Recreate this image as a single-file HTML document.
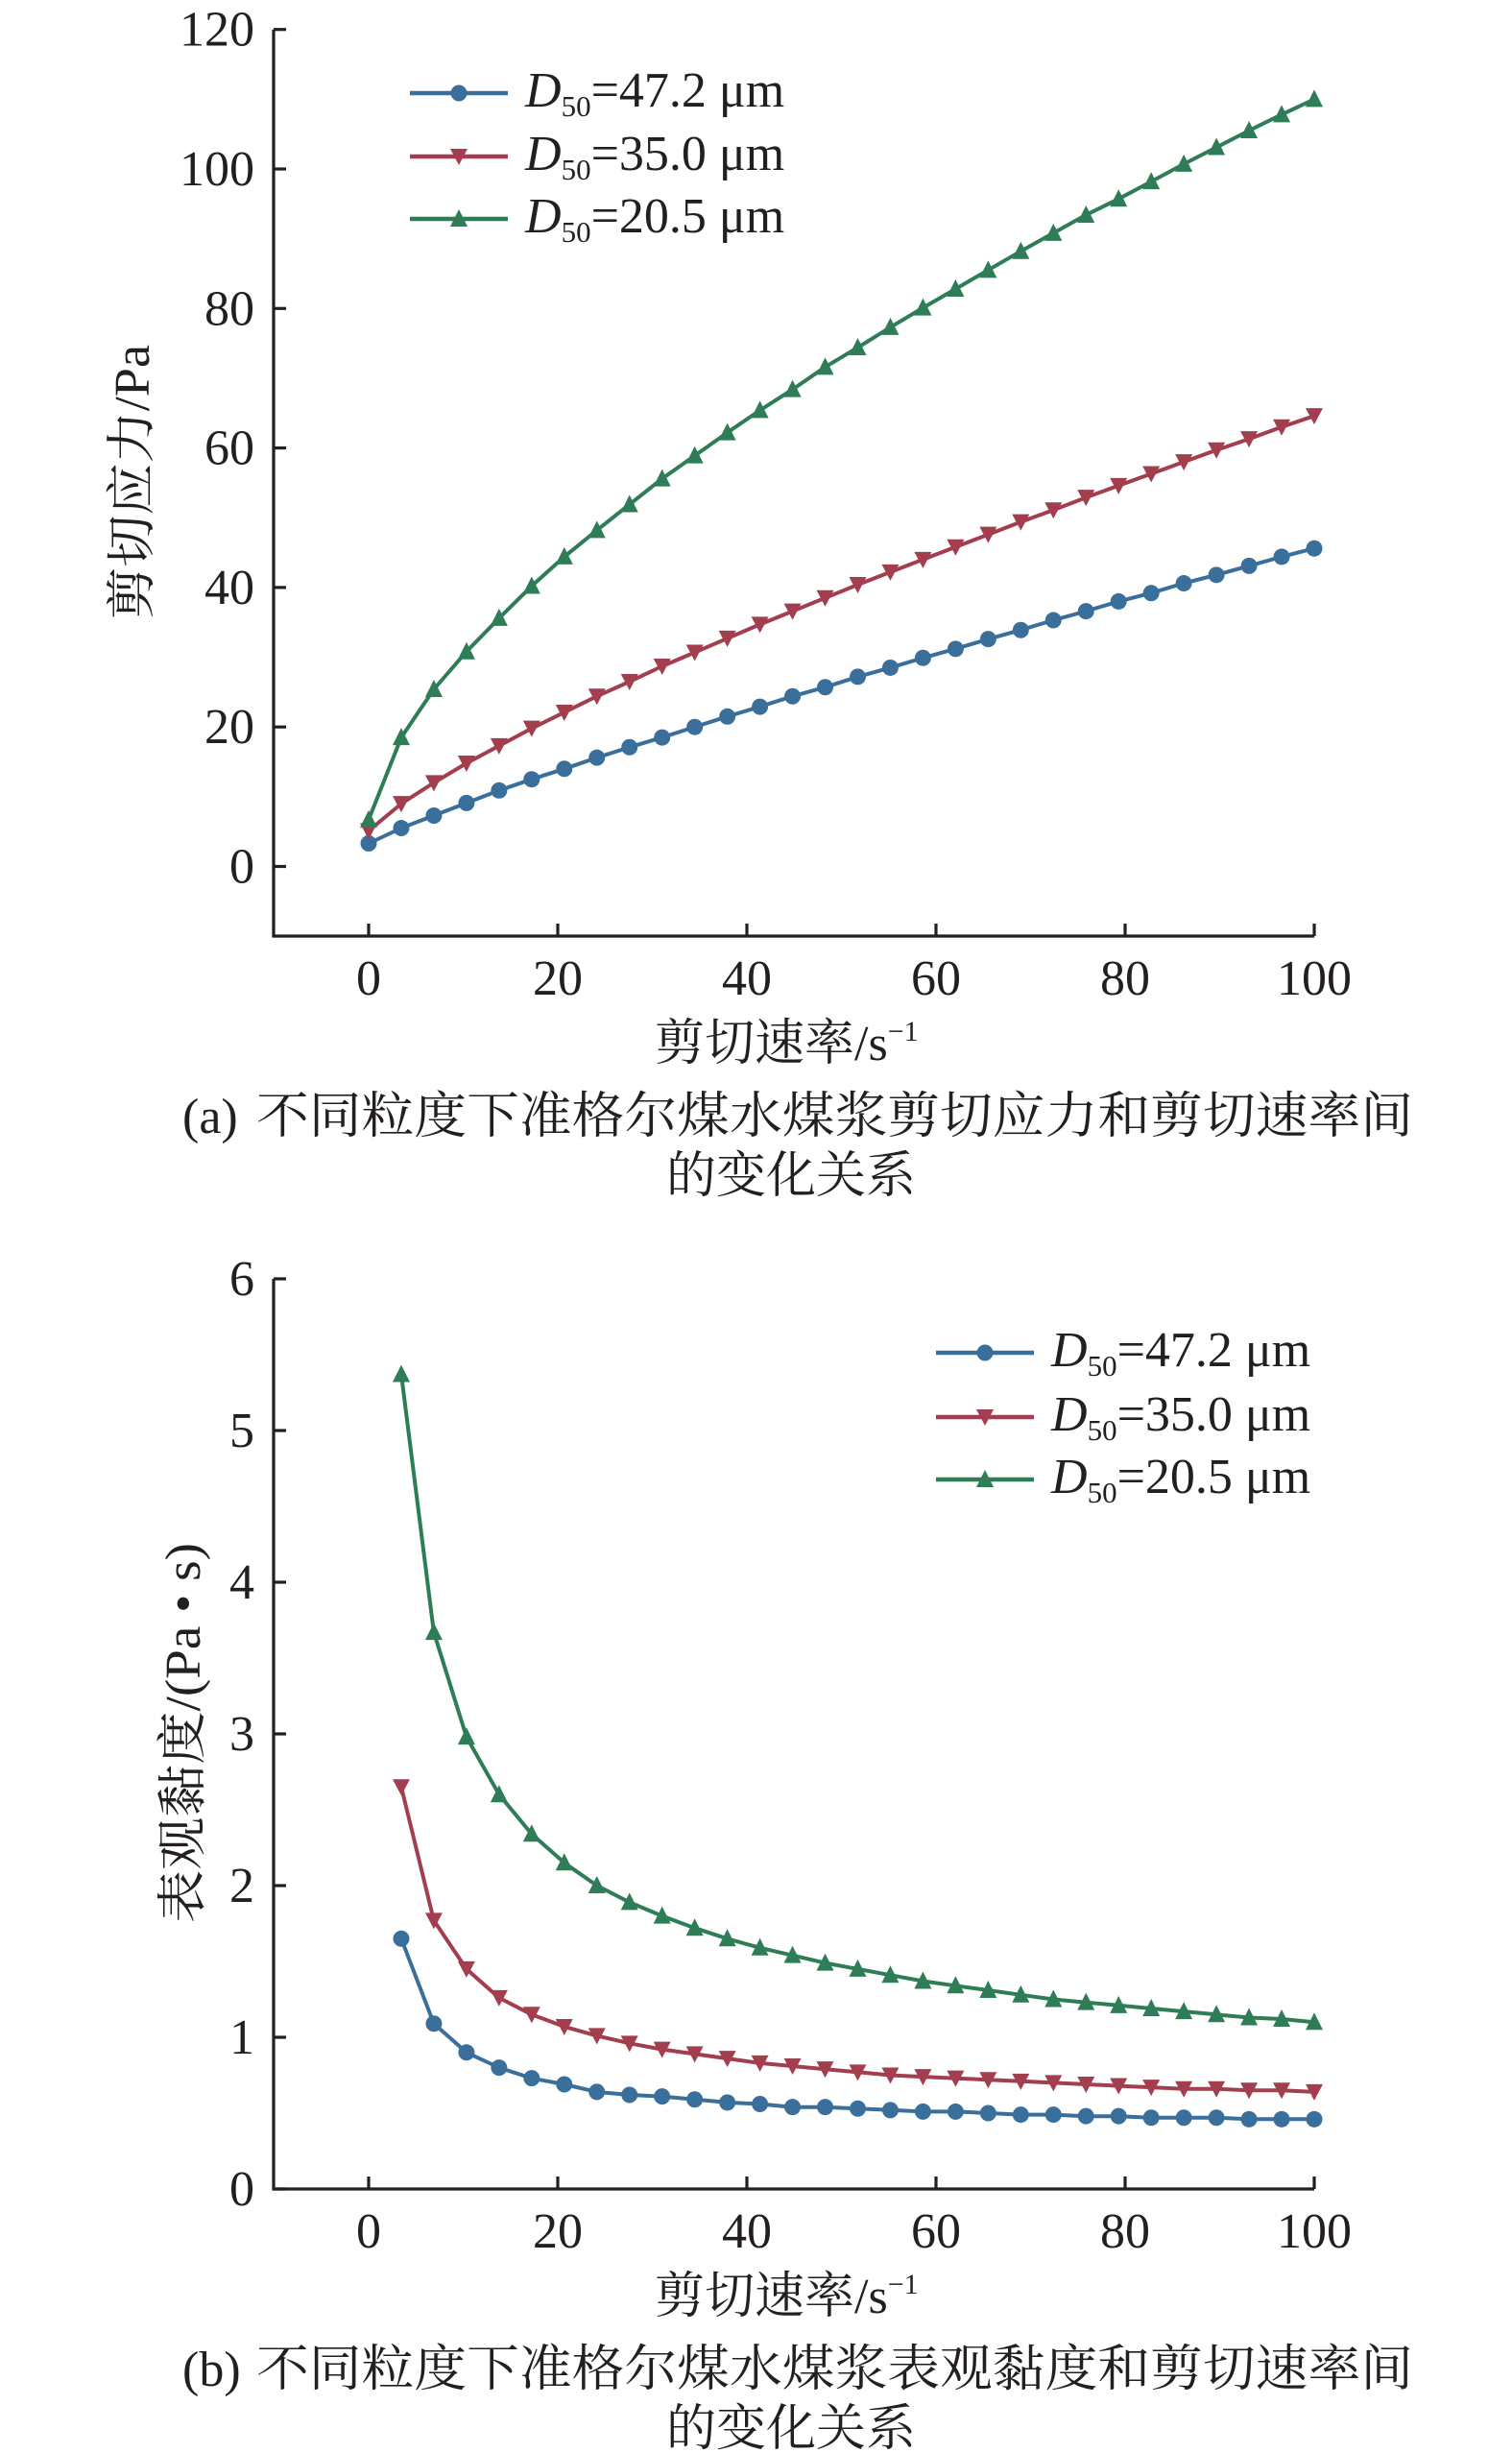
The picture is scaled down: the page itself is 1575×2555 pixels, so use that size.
<!DOCTYPE html>
<html><head><meta charset="utf-8"><style>
html,body{margin:0;padding:0;background:#fff;}
svg{display:block;}
text{fill:#231f20;}
.num{font-family:"Liberation Serif",serif;font-size:52px;}
.cjk{font-family:"Liberation Serif","Noto Serif CJK SC","Noto Sans CJK SC",serif;font-size:52px;}
</style></head><body>
<svg id="fig" width="1575" height="2555" viewBox="0 0 1575 2555" xmlns="http://www.w3.org/2000/svg"></svg>
<script>
// ---- data ----
const xValues = Array.from({length:30},(_,i)=>i*100/29);
const xTicks = [0,20,40,60,80,100];
const yTicksA = [0,20,40,60,80,100,120];
const yTicksB = [0,1,2,3,4,5,6];
const seriesNames = ["D50=47.2 μm","D50=35.0 μm","D50=20.5 μm"];
const stressBlue = [3.3,5.5,7.3,9.1,10.9,12.5,14.0,15.6,17.1,18.5,20.0,21.5,22.9,24.4,25.7,27.2,28.5,29.9,31.2,32.6,33.9,35.3,36.6,38.0,39.2,40.6,41.8,43.1,44.4,45.6];
const stressRed = [5.1,9.0,12.0,14.8,17.3,19.8,22.1,24.4,26.5,28.7,30.7,32.7,34.7,36.6,38.5,40.4,42.2,44.0,45.8,47.6,49.4,51.1,52.9,54.6,56.3,58.0,59.7,61.3,63.0,64.6];
const stressGreen = [6.7,18.5,25.4,30.8,35.6,40.2,44.4,48.2,51.9,55.6,58.9,62.2,65.4,68.4,71.6,74.4,77.3,80.1,82.8,85.5,88.2,90.8,93.4,95.7,98.2,100.7,103.1,105.5,107.8,110.0];
const viscBlue = [null,1.65,1.09,0.90,0.80,0.73,0.69,0.64,0.62,0.61,0.59,0.57,0.56,0.54,0.54,0.53,0.52,0.51,0.51,0.50,0.49,0.49,0.48,0.48,0.47,0.47,0.47,0.46,0.46,0.46];
const viscRed = [null,2.65,1.77,1.45,1.26,1.15,1.07,1.01,0.96,0.92,0.89,0.86,0.83,0.81,0.79,0.77,0.75,0.74,0.73,0.72,0.71,0.70,0.69,0.68,0.67,0.66,0.66,0.65,0.65,0.64];
const viscGreen = [null,5.37,3.67,2.98,2.60,2.34,2.15,2.00,1.89,1.80,1.72,1.65,1.59,1.54,1.49,1.45,1.41,1.37,1.34,1.31,1.28,1.25,1.23,1.21,1.19,1.17,1.15,1.13,1.12,1.10];

const NS="http://www.w3.org/2000/svg";
const svg=document.getElementById('fig');
const COLORS=["#3a6f9c","#a23e4d","#2e7d57"];
const MARKS=["circle","down","up"];
function mk(tag,attrs,parent){const e=document.createElementNS(NS,tag);for(const k in attrs)e.setAttribute(k,attrs[k]);(parent||svg).appendChild(e);return e;}

const xScale=v=>384+v*(1369-384)/100;

function drawChart(opt){
  const g=mk('g',{});
  
  
  const y=opt.yScale;
  const L=285, R=1369, B=opt.axisY, T=y(opt.yMax);
  const ax=mk('path',{d:`M${L},${T} V${B} H${R}`,fill:'none',stroke:'#231f20','stroke-width':3.2},g);
  
  
  opt.yTicks.forEach(t=>{
    const tk=mk('line',{x1:L,x2:L+13,y1:y(t),y2:y(t),stroke:'#231f20','stroke-width':3.2},g);
    
    
    const tl=mk('text',{x:265,y:y(t)+17,'text-anchor':'end',class:'num'},g);
    tl.textContent=t;
    
    
  });
  xTicks.forEach(t=>{
    const tk=mk('line',{x1:xScale(t),x2:xScale(t),y1:B,y2:B-13,stroke:'#231f20','stroke-width':3.2},g);
    
    
    const tl=mk('text',{x:xScale(t),y:B+61,'text-anchor':'middle',class:'num'},g);
    tl.textContent=t;
    
    
  });
  opt.series.forEach((vals,si)=>{
    const sg=mk('g',{},g);
    
    
    let d='';
    vals.forEach((v,i)=>{ if(v==null)return; d+=(d?'L':'M')+xScale(xValues[i]).toFixed(1)+','+y(v).toFixed(1); });
    const p=mk('path',{d,fill:'none',stroke:COLORS[si],'stroke-width':4,'stroke-linejoin':'round'},sg);
    
    
    vals.forEach((v,i)=>{ if(v==null)return;
      const m=marker(MARKS[si],xScale(xValues[i]),y(v),COLORS[si],sg);
      
      
    });
  });
  const lg=mk('g',{},g);
  
  
  const vals=["=47.2 μm","=35.0 μm","=20.5 μm"];
  opt.legendY.forEach((ly,i)=>{
    const eg=mk('g',{},lg);
    
    
    mk('line',{x1:opt.legendX,x2:opt.legendX+102,y1:ly,y2:ly,stroke:COLORS[i],'stroke-width':4.5},eg);
    marker(MARKS[i],opt.legendX+51,ly,COLORS[i],eg);
    const t=mk('text',{x:opt.legendX+120,y:ly+14,class:'num','font-size':'49'},eg);
    t.innerHTML=`<tspan font-style="italic">D</tspan><tspan font-size="31" dy="10">50</tspan><tspan dy="-10">${vals[i]}</tspan>`;
  });
  const yt=mk('text',{transform:`translate(${opt.yLabelX},${opt.yLabelCY}) rotate(-90)`,'text-anchor':'middle',class:'cjk',textLength:opt.yLabelLen,lengthAdjust:'spacingAndGlyphs'},g);
  yt.textContent=opt.yLabel;
  
  
  const xt=mk('text',{x:682,y:B+129,class:'cjk'},g);
  xt.innerHTML='剪切速率/s<tspan font-size="30" dy="-20">−1</tspan>';
  
  
  const c1=mk('text',{x:190,y:B+205,class:'cjk'},g);
  c1.innerHTML=`${opt.tag}<tspan x="267" textLength="1205" lengthAdjust="spacingAndGlyphs">${opt.caption}</tspan>`;
  
  
  const c2=mk('text',{x:824,y:B+267,'text-anchor':'middle',class:'cjk'},g);
  c2.textContent='的变化关系';
  
  
}
function marker(type,x,y,col,parent){
  if(type==='circle') return mk('circle',{cx:x,cy:y,r:8.5,fill:col},parent);
  if(type==='down') return mk('path',{d:`M${x-9},${y-8} L${x+9},${y-8} L${x},${y+9} Z`,fill:col},parent);
  return mk('path',{d:`M${x-9},${y+8} L${x+9},${y+8} L${x},${y-10} Z`,fill:col},parent);
}

drawChart({name:'shear-stress-chart',yScale:v=>902.5-v*7.265,yMax:120,axisY:975,yTicks:yTicksA,
  series:[stressBlue,stressRed,stressGreen],legendX:427,legendY:[97,163,228],
  yLabel:'剪切应力/Pa',yLabelX:155,yLabelCY:502,yLabelLen:286,
  tag:'(a)',caption:'不同粒度下准格尔煤水煤浆剪切应力和剪切速率间'});
drawChart({name:'viscosity-chart',yScale:v=>2280-v*158,yMax:6,axisY:2280,yTicks:yTicksB,
  series:[viscBlue,viscRed,viscGreen],legendX:975,legendY:[1409,1476,1541],
  yLabel:'表观黏度/(Pa • s)',yLabelX:208,yLabelCY:1805,yLabelLen:396,
  tag:'(b)',caption:'不同粒度下准格尔煤水煤浆表观黏度和剪切速率间'});
</script>
</body></html>
